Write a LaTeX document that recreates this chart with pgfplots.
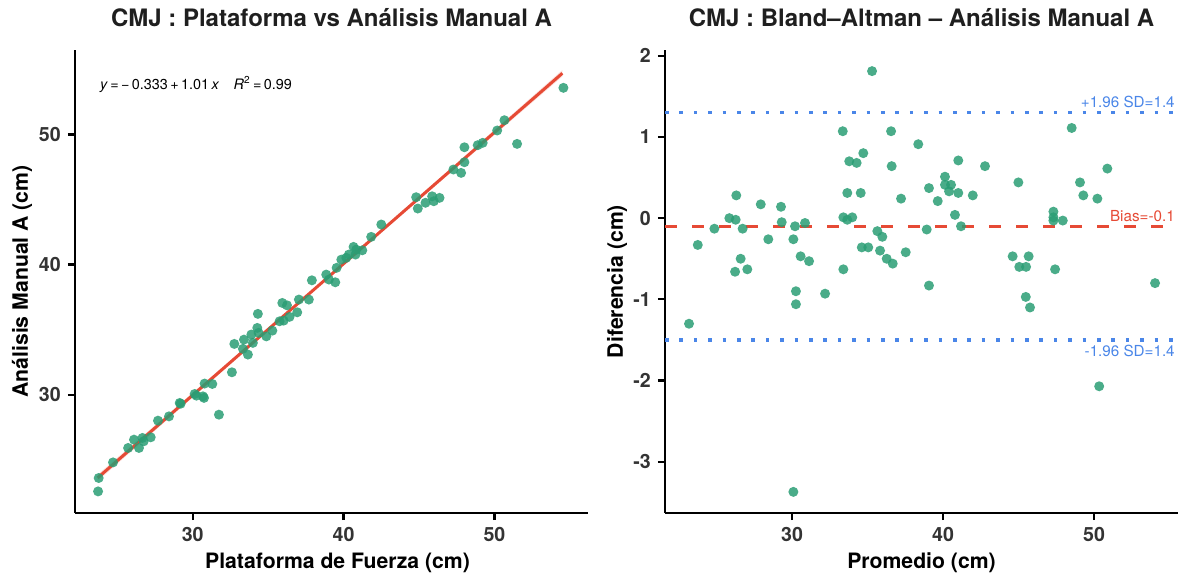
\documentclass[border=0pt]{standalone}
\usepackage{pgfplots}
\pgfplotsset{compat=1.18}
\usepackage{fontspec}
\setmainfont{TeX Gyre Heros}
\definecolor{ptgreen}{HTML}{2A9D74}
\definecolor{fitred}{HTML}{E64A35}
\definecolor{loablue}{HTML}{4A86E8}

\pgfplotsset{
  baplot/.style={
    scale only axis,
    width=256.5pt, height=231.5pt,
    axis lines*=left,
    axis line style={line width=1.3pt, black},
    tick style={line width=1.1pt, black},
    major tick length=3.6pt,
    tick align=outside,
    /pgf/number format/assume math mode=true,
    tick label style={font=\fontsize{9.8}{11}\selectfont\bfseries, text=black!80},
    every axis title/.style={at={(axis description cs:0.5,1)}, anchor=center, yshift=16pt,
      font=\fontsize{12}{14}\selectfont\bfseries, text=black!88},
    every axis x label/.style={at={(axis description cs:0.5,0)}, anchor=center, yshift=-25pt,
      font=\fontsize{10.6}{12}\selectfont\bfseries},
    every axis y label/.style={at={(axis description cs:0,0.5)}, anchor=center, rotate=90,
      font=\fontsize{10.6}{12}\selectfont\bfseries},
    pts/.style={only marks, mark=*, mark size=2.5pt, color=ptgreen,
      mark options={draw opacity=0, fill=ptgreen, fill opacity=0.85}},
  }
}

\begin{document}
\begin{tikzpicture}
\useasboundingbox (-37.5pt,-31.5pt) rectangle (551.5pt,256.5pt);

% --- regresion ---
\begin{axis}[baplot,
    title={CMJ : Plataforma vs Análisis Manual A},
    xlabel={Plataforma de Fuerza (cm)},
    xlabel style={xshift=3pt},
    ylabel={Análisis Manual A (cm)},
    ylabel style={yshift=26.5pt},
    xmin=22.2, xmax=56.2, ymin=20.9, ymax=56.5,
    xtick={30,40,50}, ytick={30,40,50},
]
\addplot[draw=none, fill=fitred, fill opacity=0.18] coordinates {
(23.7,23.85) (39.0,39.13) (54.5,54.96) (54.5,54.46) (39.0,38.98) (23.7,23.35) } -- cycle;
\addplot[pts] coordinates {
(23.73,22.56) (23.77,23.59) (24.72,24.79) (25.72,25.90) (26.11,26.54) (26.44,25.90)
(26.67,26.67) (26.75,26.41) (27.22,26.72) (27.70,28.00) (28.43,28.33) (29.14,29.36)
(29.20,29.30) (30.13,30.05) (30.25,29.92) (30.68,29.87) (30.75,29.75) (30.79,30.85)
(31.30,30.82) (31.74,28.46) (32.60,31.72) (32.76,33.90) (33.33,33.52) (33.40,34.23)
(33.66,33.08) (33.89,34.62) (33.99,33.98) (34.28,35.13) (34.32,36.21) (34.37,34.75)
(34.88,34.48) (35.28,34.92) (35.76,35.64) (35.94,37.05) (36.03,35.69) (36.25,36.87)
(36.42,35.98) (36.93,36.33) (37.04,37.31) (37.70,37.31) (37.90,38.79) (38.85,39.23)
(39.03,38.85) (39.45,38.64) (39.54,39.75) (39.85,40.38) (40.18,40.52) (40.35,40.77)
(40.66,41.36) (40.84,41.15) (41.24,41.10) (40.79,40.77) (41.83,42.13) (42.50,43.08)
(44.81,45.18) (44.92,44.31) (45.43,44.75) (45.87,45.25) (45.98,44.87) (46.36,45.13)
(47.28,47.31) (47.79,47.05) (48.01,47.87) (48.01,49.02) (48.89,49.18) (49.22,49.36)
(50.18,50.31) (50.66,51.10) (51.50,49.28) (54.57,53.59)
};
\addplot[fitred, line width=1.5pt] coordinates {(23.7,23.60) (54.5,54.71)};
\node[anchor=west, inner sep=0pt, font=\fontsize{7.2}{9}\selectfont]
  at (axis cs:23.84,53.85) {\textit{y}\,=\,−\,0.333\,+\,1.01\,\textit{x}\quad \textit{R}\textsuperscript{2}\,=\,0.99};
\end{axis}

% --- Bland-Altman ---
\begin{axis}[baplot, at={(295pt,0pt)}, anchor=south west,
    title={CMJ : Bland–Altman – Análisis Manual A},
    xlabel={Promedio (cm)},
    ylabel={Diferencia (cm)},
    ylabel style={yshift=24pt},
    xmin=21.59, xmax=55.56, ymin=-3.63, ymax=2.07,
    xtick={30,40,50}, ytick={-3,-2,-1,0,1,2},
]
\addplot[loablue, line width=1.8pt, dash pattern=on 1.8pt off 5.4pt] coordinates {(21.59,1.3) (55.56,1.3)};
\addplot[loablue, line width=1.8pt, dash pattern=on 1.8pt off 5.4pt] coordinates {(21.59,-1.5) (55.56,-1.5)};
\addplot[fitred, line width=1.5pt, dash pattern=on 6pt off 7.5pt] coordinates {(21.59,-0.1) (55.56,-0.1)};
\addplot[pts] coordinates {
(23.76,-0.33) (24.86,-0.13) (25.85,0.00) (26.27,-0.02) (26.31,0.28) (26.73,-0.13)
(26.60,-0.50) (26.23,-0.66) (27.04,-0.63) (27.93,0.17) (28.43,-0.26) (29.27,0.14)
(29.32,-0.05) (30.09,-0.26) (30.20,-0.10) (30.57,-0.47) (30.86,-0.06) (31.13,-0.53)
(33.36,1.07) (33.66,0.31) (33.40,0.01) (33.66,-0.02) (33.99,0.01) (33.79,0.70)
(34.28,0.68) (34.72,0.80) (34.55,0.31) (33.40,-0.63) (34.62,-0.36) (35.05,-0.36)
(35.30,1.81) (35.65,-0.16) (35.98,-0.23) (35.83,-0.40) (36.27,-0.50) (36.67,-0.56)
(36.56,1.07) (36.60,0.64) (37.22,0.24) (37.53,-0.42) (30.26,-0.90) (30.26,-1.06)
(32.19,-0.93) (23.18,-1.30) (30.09,-3.37) (38.36,0.91) (39.07,0.37) (38.92,-0.14)
(39.07,-0.83) (39.65,0.21) (40.13,0.51) (40.13,0.41) (40.53,0.41) (40.40,0.33)
(41.01,0.71) (41.01,0.31) (40.79,0.04) (41.19,-0.10) (41.97,0.28) (42.78,0.64)
(44.99,0.44) (44.61,-0.47) (45.05,-0.60) (45.50,-0.60) (45.67,-0.47) (47.42,-0.63)
(47.31,0.08) (47.31,0.01) (47.31,-0.03) (47.93,-0.03) (48.52,1.11) (49.07,0.44)
(49.29,0.28) (50.22,0.24) (50.88,0.61) (54.04,-0.80) (45.48,-0.97) (45.76,-1.10)
(50.34,-2.07)
};
\node[anchor=south east, inner sep=1pt, text=loablue, font=\fontsize{7.6}{9}\selectfont]
  at (axis cs:55.5,1.33) {+1.96 SD=1.4};
\node[anchor=south east, inner sep=1pt, text=fitred, font=\fontsize{7.6}{9}\selectfont]
  at (axis cs:55.5,-0.07) {Bias=-0.1};
\node[anchor=north east, inner sep=1pt, text=loablue, font=\fontsize{7.6}{9}\selectfont]
  at (axis cs:55.5,-1.54) {-1.96 SD=1.4};
\end{axis}
\end{tikzpicture}
\end{document}
